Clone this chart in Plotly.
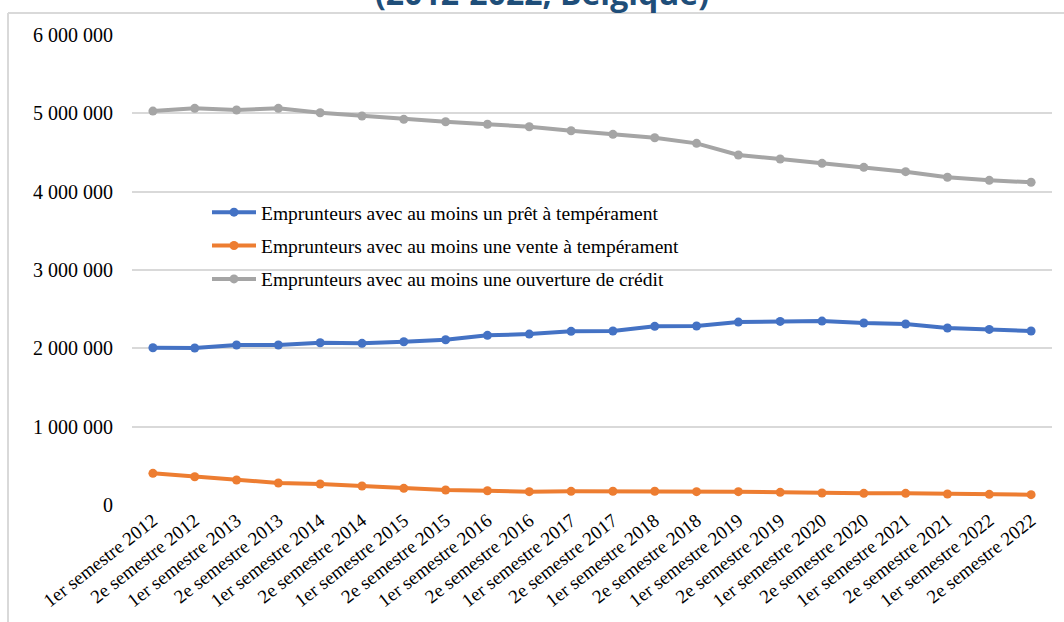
import plotly.graph_objects as go

# Semestres (axe des catégories)
periodes = [
    "1er semestre 2012", "2e semestre 2012",
    "1er semestre 2013", "2e semestre 2013",
    "1er semestre 2014", "2e semestre 2014",
    "1er semestre 2015", "2e semestre 2015",
    "1er semestre 2016", "2e semestre 2016",
    "1er semestre 2017", "2e semestre 2017",
    "1er semestre 2018", "2e semestre 2018",
    "1er semestre 2019", "2e semestre 2019",
    "1er semestre 2020", "2e semestre 2020",
    "1er semestre 2021", "2e semestre 2021",
    "1er semestre 2022", "2e semestre 2022",
]

pret_temperament = [
    2008000, 2004000, 2042000, 2042000, 2071000, 2064000, 2084000, 2110000,
    2166000, 2182000, 2217000, 2221000, 2281000, 2285000, 2335000, 2344000,
    2348000, 2323000, 2310000, 2259000, 2242000, 2221000,
]

vente_temperament = [
    404000, 361000, 319000, 281000, 268000, 242000, 213000, 191000,
    182000, 170000, 174000, 175000, 175000, 170000, 170000, 162000,
    153000, 149000, 149000, 140000, 136000, 132000,
]

ouverture_credit = [
    5029000, 5064000, 5042000, 5064000, 5008000, 4966000, 4923000, 4893000,
    4860000, 4829000, 4778000, 4732000, 4689000, 4617000, 4468000, 4417000,
    4362000, 4311000, 4255000, 4184000, 4145000, 4120000,
]

series = [
    ("Emprunteurs avec au moins un prêt à tempérament", pret_temperament, "#4472C4"),
    ("Emprunteurs avec au moins une vente à tempérament", vente_temperament, "#ED7D31"),
    ("Emprunteurs avec au moins une ouverture de crédit", ouverture_credit, "#A5A5A5"),
]

y_ticks = [0, 1000000, 2000000, 3000000, 4000000, 5000000, 6000000]

font_family = "'Liberation Serif', 'Times New Roman', Times, serif"

fig = go.Figure()
for i, (nom, valeurs, couleur) in enumerate(series):
    fig.add_trace(go.Scatter(
        x=periodes, y=valeurs, name=nom, mode="lines+markers",
        legendgroup=f"g{i}",
        line=dict(color=couleur, width=4),
        marker=dict(color=couleur, size=9),
    ))

W, H = 1064, 622
L, R, T, B = 132, 12, 35, 117
pw, ph = W - L - R, H - T - B


def px_x(v):
    return (v - L) / pw


def px_y(v):
    return (H - B - v) / ph


fig.update_layout(
    width=W, height=H,
    margin=dict(l=L, r=R, t=T, b=B, pad=0, autoexpand=False),
    paper_bgcolor="white", plot_bgcolor="white",
    separators=", ",
    font=dict(family=font_family, size=17, color="#000000"),
    showlegend=True,
    legend=dict(
        x=px_x(207), y=px_y(193), xanchor="left", yanchor="top",
        bgcolor="rgba(0,0,0,0)", traceorder="grouped", tracegroupgap=5,
        font=dict(family=font_family, size=19.5, color="#000000"),
        itemwidth=44,
    ),
    xaxis=dict(
        type="category", range=[-0.5, len(periodes) - 0.5],
        tickangle=-38, showgrid=False, zeroline=False,
        showline=False, ticks="", automargin=False,
        tickfont=dict(family=font_family, size=19, color="#000000"),
    ),
    yaxis=dict(
        range=[0, 6000000], tickvals=y_ticks, tickformat=",d",
        showgrid=True, gridcolor="#D9D9D9", gridwidth=1.5,
        zeroline=False, showline=False, ticks="", automargin=False,
        ticklabelstandoff=18,
        tickfont=dict(family=font_family, size=20, color="#000000"),
    ),
    annotations=[dict(
        text="<b>(2012-2022, Belgique)</b>", xref="paper", yref="paper",
        x=px_x(542), y=px_y(-7), xanchor="center", yanchor="middle",
        showarrow=False,
        font=dict(family="Open Sans", size=32, color="#1F4E79"),
    )],
    shapes=[
        dict(type="line", xref="paper", yref="paper",
             x0=px_x(8), x1=px_x(8), y0=px_y(13), y1=px_y(H),
             line=dict(color="#D9D9D9", width=2)),
        dict(type="line", xref="paper", yref="paper",
             x0=px_x(8), x1=px_x(W), y0=px_y(13), y1=px_y(13),
             line=dict(color="#D9D9D9", width=2)),
    ],
)

fig.write_html("out.html")
